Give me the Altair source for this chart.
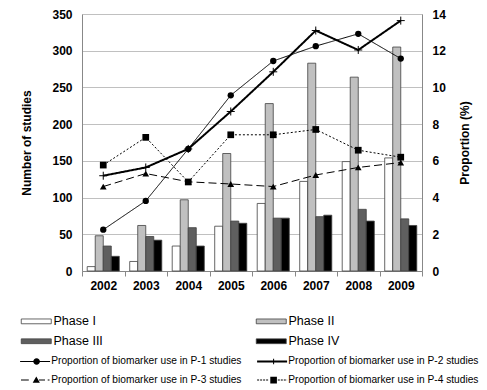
import altair as alt
import pandas as pd

FONT = "Liberation Sans"

years = ["2002", "2003", "2004", "2005", "2006", "2007", "2008", "2009"]
phases = ["Phase I", "Phase II", "Phase III", "Phase IV"]
phase1 = [6, 13, 34, 61, 92, 122, 149, 154]
phase2 = [48, 62, 97, 160, 228, 283, 264, 305]
phase3 = [34, 47, 59, 68, 72, 74, 84, 71]
phase4 = [20, 42, 34, 65, 72, 76, 68, 62]
phase_colors = ["#ffffff", "#c0c0c0", "#5f5f5f", "#000000"]

series = [
    "Proportion of biomarker use in P-1 studies",
    "Proportion of biomarker use in P-2 studies",
    "Proportion of biomarker use in P-3 studies",
    "Proportion of biomarker use in P-4 studies",
]
p1 = [2.25, 3.82, 6.65, 9.57, 11.44, 12.25, 12.92, 11.57]
p2 = [5.19, 5.64, 6.65, 8.69, 10.85, 13.10, 12.04, 13.64]
p3 = [4.60, 5.31, 4.86, 4.74, 4.60, 5.23, 5.64, 5.91]
p4 = [5.77, 7.28, 4.85, 7.42, 7.42, 7.71, 6.58, 6.20]

bar_df = pd.DataFrame({
    "year": years * 4,
    "phase": [p for p in phases for _ in years],
    "count": phase1 + phase2 + phase3 + phase4,
})
line_df = pd.DataFrame({
    "year": years * 4,
    "series": [s for s in series for _ in years],
    "value": p1 + p2 + p3 + p4,
})

# legend entries fill column by column: order so rows read I, II / III, IV
legend_order = [0, 2, 1, 3]

x_enc = alt.X(
    "year:N", sort=years,
    scale=alt.Scale(paddingInner=0, paddingOuter=0),
    axis=alt.Axis(title=None, labelAngle=0, labelFont=FONT, labelFontSize=12,
                  labelFontWeight="bold", labelColor="black", labelPadding=4,
                  tickBand="extent", tickSize=5, tickColor="#888888",
                  domainColor="#888888", grid=False),
)

bar_legend = alt.Legend(
    title=None, orient="none", legendX=-64, legendY=301, columns=2,
    columnPadding=150, rowPadding=7, symbolType="M-1,-0.8H9V0.8H-1Z",
    symbolSize=36, symbolStrokeColor="#404040", symbolStrokeWidth=0.8,
    labelOffset=23, labelFont=FONT, labelFontSize=12.5, labelColor="black",
    padding=0, labelLimit=300,
)

bars = alt.Chart(bar_df).mark_bar(stroke="#404040", strokeWidth=0.8).encode(
    x=x_enc,
    xOffset=alt.XOffset("phase:N", sort=phases,
                        scale=alt.Scale(paddingInner=0, paddingOuter=0.65)),
    y=alt.Y("count:Q", scale=alt.Scale(domain=[0, 350], nice=False),
            axis=alt.Axis(values=list(range(0, 351, 50)), title="Number of studies",
                          titleFont=FONT, titleFontSize=12, titleFontWeight="bold",
                          titleColor="black", titlePadding=18,
                          labelFont=FONT, labelFontSize=12, labelFontWeight="bold",
                          labelColor="black", labelPadding=10, ticks=False,
                          grid=True, gridColor="#c0c0c0", domainColor="#888888")),
    fill=alt.Fill("phase:N",
                  scale=alt.Scale(domain=[phases[i] for i in legend_order],
                                  range=[phase_colors[i] for i in legend_order]),
                  legend=bar_legend),
)

y2 = alt.Y("value:Q", scale=alt.Scale(domain=[0, 14], nice=False),
           axis=alt.Axis(orient="right", values=list(range(0, 15, 2)),
                         title="Proportion (%)", titleFont=FONT, titleFontSize=12,
                         titleFontWeight="bold", titleColor="black", titlePadding=26,
                         titleAngle=270,
                         labelFont=FONT, labelFontSize=12, labelFontWeight="bold",
                         labelColor="black", labelPadding=10, ticks=False,
                         grid=False, domainColor="#888888"))

specs = [
    # series, line width, dash, marker shape, size, filled
    (series[0], 1, [1, 0], "circle", 40, True),
    (series[1], 2, [1, 0], "M-1,0H1M0,-1V1", 64, False),
    (series[2], 1, [8, 4], "triangle-up", 45, True),
    (series[3], 1, [2, 2], "square", 45, True),
]

layers = []
for s, sw, dash, shape, size, filled in specs:
    base = alt.Chart(line_df).transform_filter(alt.datum.series == s)
    layers.append(base.mark_line(color="black", strokeWidth=sw, strokeDash=dash)
                  .encode(x=x_enc, y=y2))
for s, sw, dash, shape, size, filled in specs:
    base = alt.Chart(line_df).transform_filter(alt.datum.series == s)
    layers.append(base.mark_point(shape=shape, size=size, filled=filled,
                                  color="black", opacity=1, strokeWidth=1)
                  .encode(x=x_enc, y=y2))


# legend glyphs (filled paths, 1 unit = 3 px): line pieces + marker
def seg(x0, x1, h=0.17):
    return f"M{x0},{-h}H{x1}V{h}H{x0}Z"


circle = "M5.6,0A1.1,1.1 0 1,1 3.4,0A1.1,1.1 0 1,1 5.6,0Z"
tick = "M4.33,-0.9H4.67V0.9H4.33Z"
triangle = "M4.4,-1.2L5.6,0.9L3.2,0.9Z"
square = "M3.4,-1.1H5.6V1.1H3.4Z"
dots_left = "".join(seg(a, a + 0.67) for a in [-1, 0, 1, 2])
dots_right = "".join(seg(a, a + 0.67) for a in [5.9, 6.9, 7.9]) + seg(8.9, 9)
legend_paths = [
    seg(-1, 9) + circle,
    seg(-1, 9, 0.33) + tick,
    seg(-0.7, 1.9) + triangle + seg(5.3, 7.3) + seg(8.2, 8.8),
    dots_left + square + dots_right,
]

line_legend = alt.Legend(
    title=None, orient="none", legendX=-64, legendY=342, columns=2,
    columnPadding=13, rowPadding=8, symbolSize=36, symbolFillColor="black",
    symbolStrokeWidth=0, labelOffset=23,
    labelFont=FONT, labelFontSize=10.2, labelColor="black", padding=0,
    labelLimit=300,
)

legend_layer = alt.Chart(line_df).transform_filter("false").mark_point(
    filled=True, color="black", opacity=1).encode(
    shape=alt.Shape("series:N",
                    scale=alt.Scale(domain=[series[i] for i in legend_order],
                                    range=[legend_paths[i] for i in legend_order]),
                    legend=line_legend),
)

right = alt.layer(*layers, legend_layer)

chart = alt.layer(bars, right).resolve_scale(y="independent").properties(
    width=340, height=257,
    autosize=alt.AutoSizeParams(type="none"),
    padding={"left": 74, "top": 6, "right": 57, "bottom": 117},
).configure_view(stroke=None).configure(background="white")

chart.save("out.html", embed_options={"renderer": "svg", "actions": False})
